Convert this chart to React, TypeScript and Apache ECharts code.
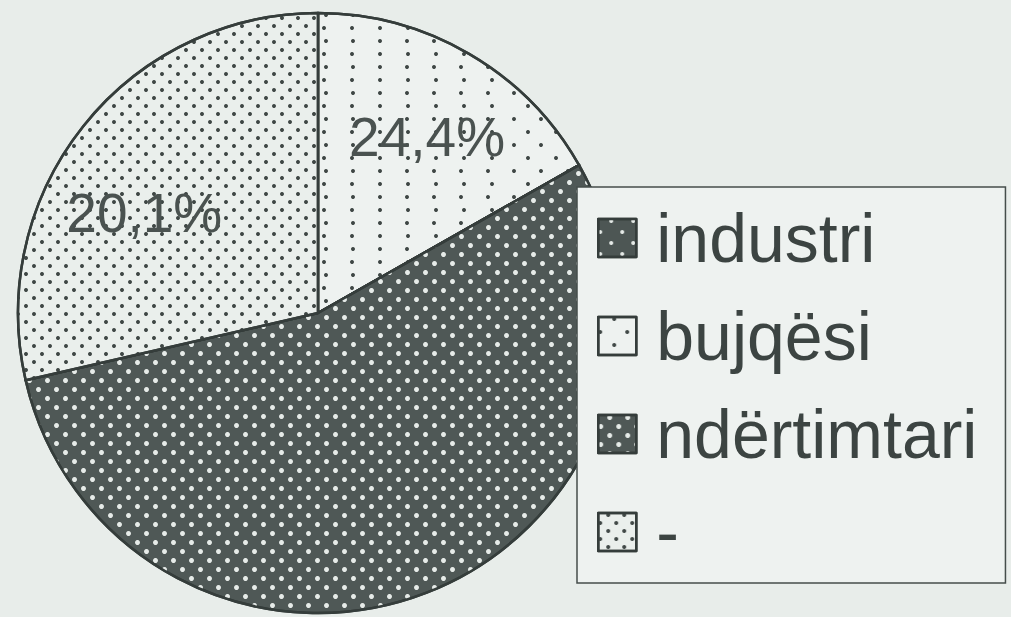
import React, { useEffect, useRef } from "react";
import * as echarts from "echarts";

// Legend order as printed
const legendOrder = ["industri", "bujqësi", "ndërtimtari", "-"];
// Slices clockwise from 12 o'clock
const sliceNames = ["bujqësi", "industri", "ndërtimtari", "-"];
// Slice sizes as drawn in the picture (share of the circle, %)
const sliceShares = [16.8, 0, 54.6, 28.6];
// Percentages printed on the slices
const sliceLabels = ["24,4%", "", "", "20,1%"];

const BG = "#e8edea";
const INK = "#353d3b";

const decals: Record<string, any> = {
  "bujqësi": {
    symbol: "circle",
    symbolSize: 1,
    color: "#3f4745",
    dashArrayX: [[4, 23], [0, 13.5, 4, 9.5]],
    dashArrayY: [4, 9],
  },
  industri: {
    symbol: "circle",
    symbolSize: 1,
    color: "#e6ebe8",
    dashArrayX: [[4, 18], [0, 11, 4, 7]],
    dashArrayY: [4, 7],
  },
  "ndërtimtari": {
    symbol: "circle",
    symbolSize: 1,
    color: "#e6ebe8",
    dashArrayX: [[5, 13], [0, 9, 5, 4]],
    dashArrayY: [5, 4],
  },
  "-": {
    symbol: "circle",
    symbolSize: 1,
    color: "#3f4745",
    dashArrayX: [[4, 12], [0, 8, 4, 4]],
    dashArrayY: [4, 4],
  },
};

const fills: Record<string, string> = {
  "bujqësi": "#eef2f0",
  industri: "#4d5654",
  "ndërtimtari": "#4f5856",
  "-": "#eaefec",
};

const labelShift: Record<string, [number, number]> = {
  "bujqësi": [32, -44],
  "-": [-54, -5],
};

export default function App() {
  const ref = useRef<HTMLDivElement>(null);
  useEffect(() => {
    if (!ref.current) return;
    const chart = echarts.init(ref.current, null, { renderer: "svg" });
    chart.setOption({
      animation: false,
      backgroundColor: BG,
      legend: {
        data: legendOrder,
        orient: "vertical",
        left: 577,
        top: 187,
        padding: [17, 28, 17, 20],
        itemWidth: 38,
        itemHeight: 38,
        itemGap: 30,
        icon: "rect",
        backgroundColor: "#eef2f0",
        borderColor: "#454d4b",
        borderWidth: 1.5,
        borderRadius: 0,
        selectedMode: false,
        itemStyle: { borderColor: INK, borderWidth: 2.5 },
        textStyle: {
          fontFamily: "Liberation Sans, Arial, sans-serif",
          fontSize: 68,
          lineHeight: 68,
          color: "#3c4442",
          padding: [0, 0, 0, 15],
        },
      },
      series: [
        {
          type: "pie",
          center: [318, 313],
          radius: 300,
          startAngle: 90,
          clockwise: true,
          avoidLabelOverlap: false,
          silent: true,
          itemStyle: { borderColor: INK, borderWidth: 2.5 },
          label: {
            show: true,
            position: "inside",
            fontFamily: "Liberation Sans, Arial, sans-serif",
            fontSize: 55,
            color: "#4a5250",
            formatter: (p: any) => sliceLabels[p.dataIndex],
          },
          labelLine: { show: false },
          labelLayout: (p: any) => {
            const s = labelShift[sliceNames[p.dataIndex]];
            return s ? { dx: s[0], dy: s[1] } : {};
          },
          data: sliceNames.map((name, i) => ({
            name,
            value: sliceShares[i],
            itemStyle: { color: fills[name], decal: decals[name] },
            label: { show: sliceLabels[i] !== "" },
          })),
        },
      ],
    });
    return () => chart.dispose();
  }, []);
  return (
    <div
      ref={ref}
      style={{ position: "fixed", left: 0, top: 0, width: 1011, height: 617 }}
    />
  );
}
